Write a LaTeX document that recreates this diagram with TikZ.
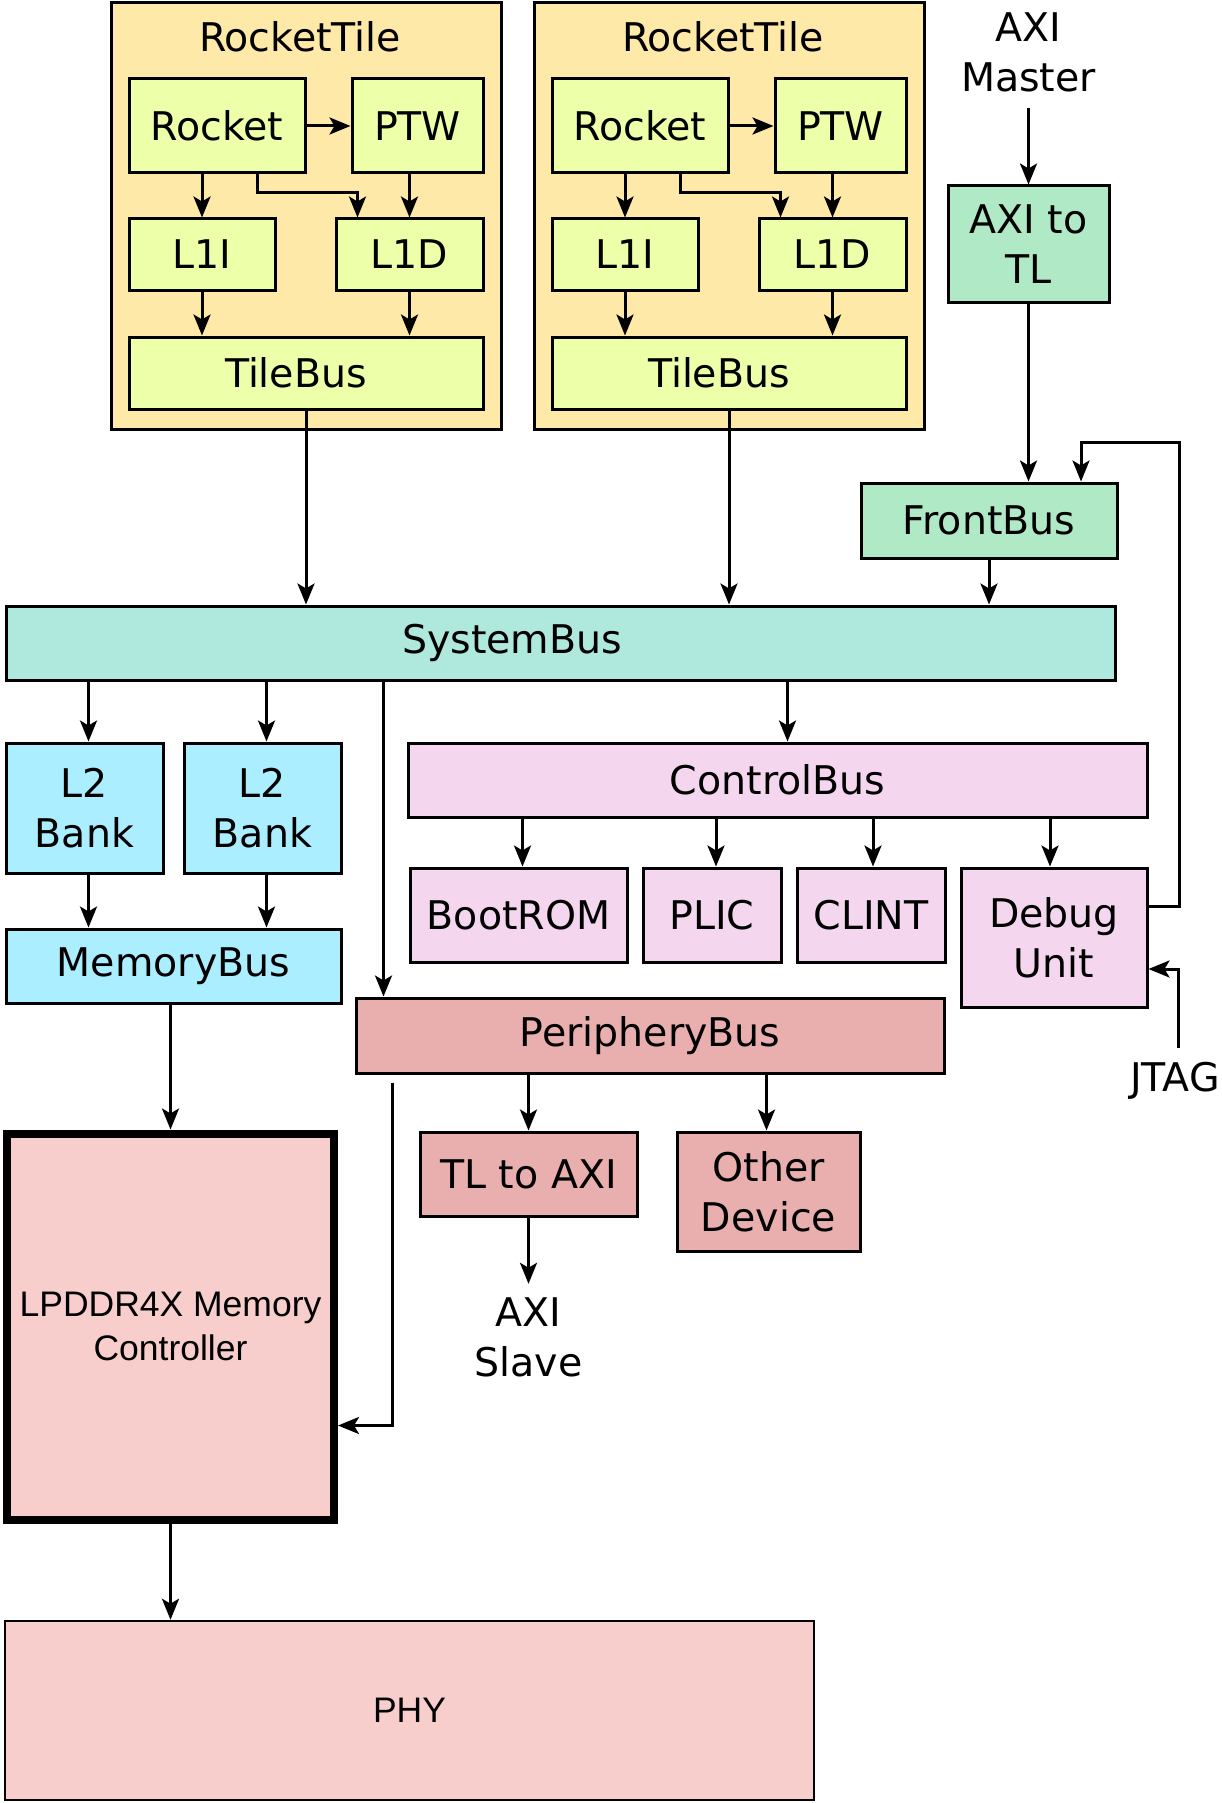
\documentclass[tikz,border=0pt]{standalone}
\usepackage{fontspec}
\setmainfont{DejaVu Sans}
\newfontfamily\ctrlfont{Liberation Sans}
\usetikzlibrary{arrows.meta,positioning}

\definecolor{tilefill}{RGB}{255,233,168}
\definecolor{corefill}{RGB}{238,255,170}
\definecolor{sysfill}{RGB}{175,232,221}
\definecolor{frontfill}{RGB}{175,233,198}
\definecolor{memfill}{RGB}{170,238,255}
\definecolor{ctrlfill}{RGB}{244,215,238}
\definecolor{perifill}{RGB}{233,175,175}
\definecolor{phyfill}{RGB}{248,206,204}

\begin{document}
\begin{tikzpicture}[x=1pt, y=-1pt, >={Stealth[length=21pt,width=17pt,inset=5pt]},
    every node/.style={font=\fontsize{39.5}{50}\selectfont, align=center},
    block/.style={draw=black, line width=3pt, inner sep=4pt},
    tilebox/.style={block, fill=tilefill},
    corebox/.style={block, fill=corefill},
    sysbox/.style={block, fill=sysfill},
    frontbox/.style={block, fill=frontfill},
    membox/.style={block, fill=memfill},
    ctrlbox/.style={block, fill=ctrlfill},
    peribox/.style={block, fill=perifill},
    phybox/.style={block, fill=phyfill, font=\ctrlfont\fontsize{35.5}{44}\selectfont},
    arr/.style={->, line width=3pt}]

    \path[use as bounding box, fill=white] (0,0) rectangle (1221,1803);

    % RocketTile 1
    \node[tilebox, minimum width=390pt, minimum height=427pt] (tile1) at (306,216) {};
    \node (tile1title) at (300,37) {RocketTile};
    \node[corebox, minimum width=176pt, minimum height=94pt] (rocket1) at (217,126) {Rocket};
    \node[corebox, minimum width=131pt, minimum height=94pt] (ptw1) at (417.5,126) {PTW};
    \node[corebox, minimum width=146pt, minimum height=71pt] (l1i1) at (202,254.5) {L1I};
    \node[corebox, minimum width=147pt, minimum height=71pt] (l1d1) at (409.5,254.5) {L1D};
    \node[corebox, minimum width=354pt, minimum height=72pt] (tilebus1) at (306,373) {};
    \node (tilebus1text) at (296,373) {TileBus};

    \draw[arr] (rocket1) -- (ptw1);
    \draw[arr] (rocket1.south -| l1i1.north) -- (l1i1.north);
    \draw[arr] ([xshift=40pt]rocket1.south) -- ++(0,18) -| ([xshift=-52pt]l1d1.north);
    \draw[arr] (ptw1.south -| l1d1.north) -- (l1d1.north);
    \draw[arr] (l1i1.south) -- (l1i1.south |- tilebus1.north);
    \draw[arr] (l1d1.south) -- (l1d1.south |- tilebus1.north);

    % RocketTile 2
    \node[tilebox, minimum width=390pt, minimum height=427pt] (tile2) at (729,216) {};
    \node (tile2title) at (723,37) {RocketTile};
    \node[corebox, minimum width=176pt, minimum height=94pt] (rocket2) at (640,126) {Rocket};
    \node[corebox, minimum width=131pt, minimum height=94pt] (ptw2) at (840.5,126) {PTW};
    \node[corebox, minimum width=146pt, minimum height=71pt] (l1i2) at (625,254.5) {L1I};
    \node[corebox, minimum width=147pt, minimum height=71pt] (l1d2) at (832.5,254.5) {L1D};
    \node[corebox, minimum width=354pt, minimum height=72pt] (tilebus2) at (729,373) {};
    \node (tilebus2text) at (719,373) {TileBus};

    \draw[arr] (rocket2) -- (ptw2);
    \draw[arr] (rocket2.south -| l1i2.north) -- (l1i2.north);
    \draw[arr] ([xshift=40pt]rocket2.south) -- ++(0,18) -| ([xshift=-52pt]l1d2.north);
    \draw[arr] (ptw2.south -| l1d2.north) -- (l1d2.north);
    \draw[arr] (l1i2.south) -- (l1i2.south |- tilebus2.north);
    \draw[arr] (l1d2.south) -- (l1d2.south |- tilebus2.north);

    % AXI master side
    \node (aximaster) at (1028.5,52) {AXI\\Master};
    \node[frontbox, minimum width=161pt, minimum height=116pt] (axitotl) at (1028.5,244) {AXI to\\TL};
    \node[frontbox, minimum width=256pt, minimum height=75pt] (frontbus) at (989,520.5) {FrontBus};
    \draw[arr] ([yshift=-13pt]aximaster.south) -- (axitotl.north);
    \draw[arr] (axitotl.south) -- (axitotl.south |- frontbus.north);

    % SystemBus
    \node[sysbox, minimum width=1109pt, minimum height=74pt] (sysbus) at (560.5,643) {};
    \node (sysbustext) at (512,643) {SystemBus};
    \draw[arr] (tilebus1.south) -- (tilebus1.south |- sysbus.north);
    \draw[arr] (tilebus2.south) -- (tilebus2.south |- sysbus.north);
    \draw[arr] (frontbus.south) -- (frontbus.south |- sysbus.north);

    % L2 banks and MemoryBus
    \node[membox, minimum width=157pt, minimum height=130pt] (l2bank1) at (84.5,808) {L2\\Bank};
    \node[membox, minimum width=157pt, minimum height=130pt] (l2bank2) at (262.5,808) {L2\\Bank};
    \node[membox, minimum width=335pt, minimum height=74pt] (membus) at (173.5,966) {MemoryBus};
    \draw[arr] ([xshift=4pt]l2bank1.north |- sysbus.south) -- ([xshift=4pt]l2bank1.north);
    \draw[arr] ([xshift=4pt]l2bank2.north |- sysbus.south) -- ([xshift=4pt]l2bank2.north);
    \draw[arr] ([xshift=4pt]l2bank1.south) -- ([xshift=4pt]l2bank1.south |- membus.north);
    \draw[arr] ([xshift=4pt]l2bank2.south) -- ([xshift=4pt]l2bank2.south |- membus.north);

    % ControlBus and devices
    \node[ctrlbox, minimum width=739pt, minimum height=74pt] (ctrlbus) at (777.5,780) {ControlBus};
    \node[ctrlbox, minimum width=217pt, minimum height=94pt] (bootrom) at (518.5,915) {BootROM};
    \node[ctrlbox, minimum width=138pt, minimum height=94pt] (plic) at (712,915) {PLIC};
    \node[ctrlbox, minimum width=148pt, minimum height=94pt] (clint) at (871,915) {CLINT};
    \node[ctrlbox, minimum width=186pt, minimum height=139pt] (debug) at (1054,937.5) {Debug\\Unit};
    \draw[arr] ([xshift=10pt]ctrlbus.north |- sysbus.south) -- ([xshift=10pt]ctrlbus.north);
    \draw[arr] ([xshift=4pt]bootrom.north |- ctrlbus.south) -- ([xshift=4pt]bootrom.north);
    \draw[arr] ([xshift=4pt]plic.north |- ctrlbus.south) -- ([xshift=4pt]plic.north);
    \draw[arr] ([xshift=2pt]clint.north |- ctrlbus.south) -- ([xshift=2pt]clint.north);
    \draw[arr] ([xshift=-4pt]debug.north |- ctrlbus.south) -- ([xshift=-4pt]debug.north);

    % Debug loop back to FrontBus
    \draw[arr] ([yshift=31pt]debug.east) -- ++(31,0) |- ([xshift=92pt,yshift=39pt]frontbus.north)
        -- ([xshift=92pt]frontbus.north);

    % JTAG
    \node (jtag) at (1175,1081) {JTAG};
    \draw[arr] ([xshift=3.5pt,yshift=11pt]jtag.north) |- ([yshift=-31.5pt]debug.east);

    % PeripheryBus
    \node[peribox, minimum width=588pt, minimum height=75pt] (peribus) at (650,1035.5) {PeripheryBus};
    \node[peribox, minimum width=217pt, minimum height=84pt] (tltoaxi) at (528.5,1174) {TL to AXI};
    \node[peribox, minimum width=183pt, minimum height=119pt] (otherdev) at (768.5,1191.5) {Other\\Device};
    \node (axislave) at (528.5,1337) {AXI\\Slave};
    \draw[arr] ([xshift=29pt]peribus.north west |- sysbus.south) -- ([xshift=29pt]peribus.north west);
    \draw[arr] (tltoaxi.north |- peribus.south) -- (tltoaxi.north);
    \draw[arr] ([xshift=-2pt]otherdev.north |- peribus.south) -- ([xshift=-2pt]otherdev.north);
    \draw[arr] (tltoaxi.south) -- ([yshift=10pt]axislave.north);

    % Memory controller and PHY
    \node[phybox, line width=8pt, minimum width=327pt, minimum height=386pt] (lpddr) at (170.5,1326.5) {LPDDR4X Memory\\Controller};
    \node[phybox, line width=2.5pt, minimum width=809pt, minimum height=179pt] (phy) at (409.5,1710.5) {PHY};
    \draw[arr] (lpddr.north |- membus.south) -- (lpddr.north);
    \draw[arr] (lpddr.south) -- (lpddr.south |- phy.north);
    \draw[arr] ([xshift=38pt,yshift=-8pt]peribus.south west) |- ([yshift=-99pt]lpddr.east);
\end{tikzpicture}
\end{document}
